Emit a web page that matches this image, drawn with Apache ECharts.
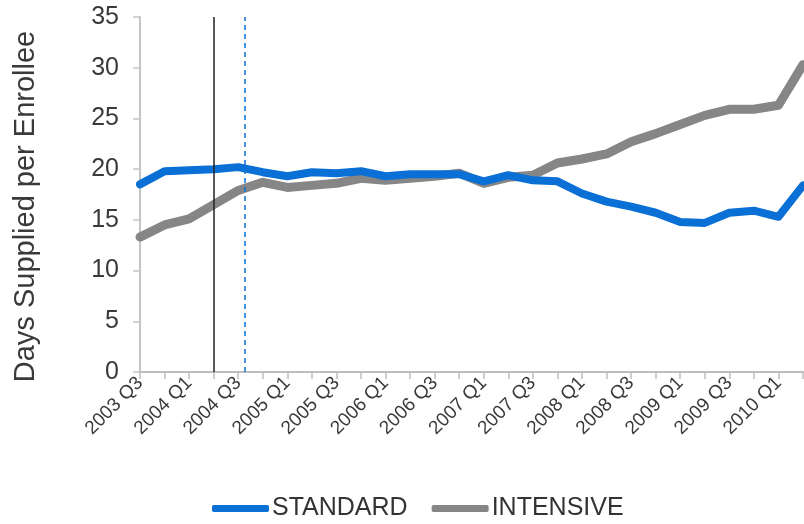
<!DOCTYPE html>
<html>
<head>
<meta charset="utf-8">
<script src="https://cdn.jsdelivr.net/npm/echarts@6/dist/echarts.min.js"></script>
<style>html,body{margin:0;padding:0;background:#fff;}#c{width:804px;height:524px;}</style>
</head>
<body>
<div id="c"></div>
<script>
var categories = ['2003 Q3','2003 Q4','2004 Q1','2004 Q2','2004 Q3','2004 Q4',
  '2005 Q1','2005 Q2','2005 Q3','2005 Q4','2006 Q1','2006 Q2','2006 Q3','2006 Q4',
  '2007 Q1','2007 Q2','2007 Q3','2007 Q4','2008 Q1','2008 Q2','2008 Q3','2008 Q4',
  '2009 Q1','2009 Q2','2009 Q3','2009 Q4','2010 Q1','2010 Q2'];
var standard = [18.5,19.8,19.9,20.0,20.2,19.7,19.3,19.7,19.6,19.8,19.3,19.5,19.5,19.5,
  18.8,19.4,18.9,18.8,17.6,16.8,16.3,15.7,14.8,14.7,15.7,15.9,15.3,18.4];
var intensive = [13.3,14.5,15.1,16.5,17.9,18.7,18.2,18.4,18.6,19.1,18.9,19.1,19.3,19.6,
  18.6,19.2,19.4,20.6,21.0,21.5,22.7,23.5,24.4,25.3,25.9,25.9,26.3,30.3];
var yTicks = [0,5,10,15,20,25,30,35];
var solidLineAt = 3;      // category index (2004 Q2)
var dashedLineAt = 4.27;  // position between 2004 Q3 and 2004 Q4

var font = 'Liberation Sans, Arial, sans-serif';
var chart = echarts.init(document.getElementById('c'));
chart.setOption({
  animation: false,
  grid: {left: 140, right: 1, top: 17, bottom: 152, containLabel: false},
  legend: {
    top: 491, left: 207,
    itemWidth: 57, itemHeight: 7, itemGap: 24,
    icon: 'roundRect',
    textStyle: {fontFamily: font, fontSize: 25, color: '#333', padding: [0, 0, 0, -2]},
    data: ['STANDARD','INTENSIVE']
  },
  xAxis: [{
    type: 'category', data: categories, boundaryGap: false,
    axisLine: {lineStyle: {color: '#bdbdbd', width: 2}},
    axisTick: {show: true, interval: 0, length: 7, lineStyle: {color: '#bdbdbd', width: 1.5}},
    axisLabel: {interval: 1, rotate: 45, fontFamily: font, fontSize: 19, color: '#3a3a3a', margin: 8}
  }, {
    type: 'value', min: 0, max: categories.length - 1, show: false
  }],
  yAxis: {
    type: 'value', min: 0, max: 35, interval: 5,
    name: 'Days Supplied per Enrollee', nameLocation: 'middle', nameGap: 100,
    nameTextStyle: {fontFamily: font, fontSize: 29, color: '#3a3a3a', padding: [0, 24, 0, 0]},
    axisLine: {show: true, lineStyle: {color: '#c4c4c4', width: 2}},
    axisTick: {show: true, length: 7, lineStyle: {color: '#c4c4c4', width: 1.5}},
    splitLine: {show: false},
    axisLabel: {fontFamily: font, fontSize: 25, color: '#3a3a3a', margin: 21,
      formatter: function(v){ return yTicks.indexOf(v) >= 0 ? String(v) : ''; }}
  },
  series: [
    {name: 'STANDARD', type: 'line', data: standard, symbol: 'none', smooth: false, z: 3,
      lineStyle: {color: '#0a70d6', width: 8, join: 'round', cap: 'round'}, itemStyle: {color: '#0a70d6'}},
    {name: 'INTENSIVE', type: 'line', data: intensive, symbol: 'none', smooth: false, z: 2,
      lineStyle: {color: '#868686', width: 9, join: 'round', cap: 'round'}, itemStyle: {color: '#868686'}},
    {name: 'marker', type: 'line', xAxisIndex: 1, data: [], symbol: 'none', z: 4,
      markLine: {silent: true, symbol: 'none', label: {show: false}, animation: false,
        data: [
          {xAxis: solidLineAt, lineStyle: {color: '#222', width: 1.5, type: 'solid'}},
          {xAxis: dashedLineAt, lineStyle: {color: '#0a70d6', width: 1.5, type: [5,4]}}
        ]}
    }
  ]
});
</script>
</body>
</html>
